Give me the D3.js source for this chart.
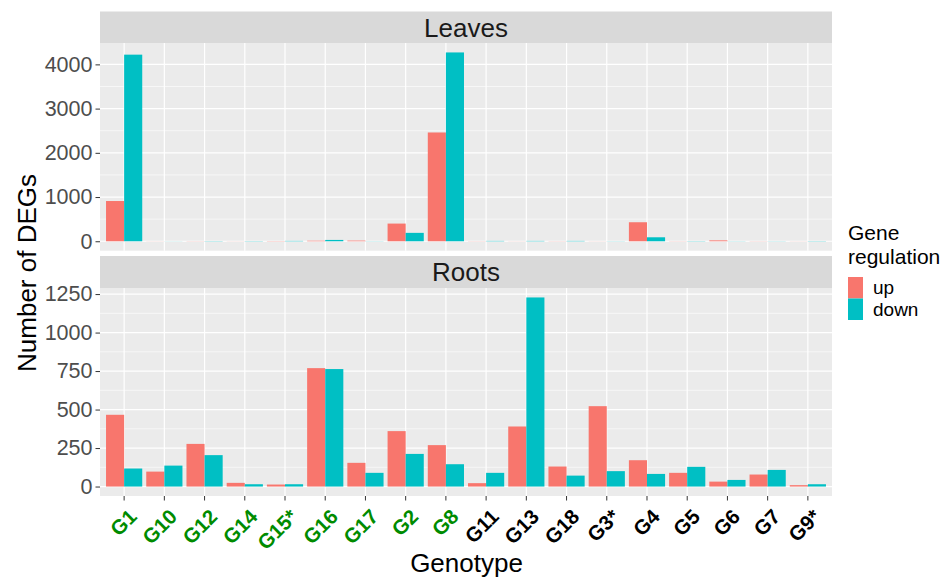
<!DOCTYPE html>
<html>
<head>
<meta charset="utf-8">
<script src="https://cdn.jsdelivr.net/npm/d3@7"></script>
<style>
  body { margin: 0; background: #fff; }
  text { font-family: "Liberation Sans", Arial, sans-serif; }
</style>
</head>
<body>
<div id="view"><svg width="952" height="579"></svg></div>
<script>
var genotypes = ["G1","G10","G12","G14","G15*","G16","G17","G2","G8","G11","G13","G18","G3*","G4","G5","G6","G7","G9*"];
var greenGenotypes = ["G1","G10","G12","G14","G15*","G16","G17","G2","G8"];

var leavesUp   = [910, 2, 3, 2, 5, 12, 15, 400, 2460, 3, 2, 3, 2, 430, 3, 20, 3, 2];
var leavesDown = [4220, 2, 5, 5, 8, 30, 3, 190, 4270, 8, 8, 8, 3, 90, 5, 3, 3, 5];
var rootsUp    = [466, 97, 277, 24, 13, 769, 154, 360, 269, 22, 390, 130, 522, 171, 89, 32, 78, 9];
var rootsDown  = [117, 136, 204, 15, 15, 763, 89, 212, 145, 89, 1228, 71, 100, 82, 128, 43, 108, 15];

var leavesTicks = [0, 1000, 2000, 3000, 4000];
var rootsTicks = [0, 250, 500, 750, 1000, 1250];

var regulation = ["up", "down"];
var colors = {up: "#F8766D", down: "#00BFC4"};

var svg = d3.select("#view > svg"),
    width = +svg.attr("width"),
    height = +svg.attr("height");

var left = 100, right = 832;

// discrete axis like ggplot: 0.6 expansion each side
var x = d3.scaleLinear()
    .domain([0.4, genotypes.length + 0.6])
    .range([left, right]);

var panels = [
  {name: "Leaves", up: leavesUp, down: leavesDown, ticks: leavesTicks, stripTop: 11.5, top: 43, bottom: 250.7},
  {name: "Roots",  up: rootsUp,  down: rootsDown,  ticks: rootsTicks,  stripTop: 256, top: 288, bottom: 496}
];

panels.forEach(function(p) {
  var max = d3.max(p.up.concat(p.down));
  var y = d3.scaleLinear()
      .domain([-0.05 * max, 1.05 * max])
      .range([p.bottom, p.top]);

  var g = svg.append("g");

  // strip
  g.append("rect")
      .attr("x", left).attr("y", p.stripTop)
      .attr("width", right - left).attr("height", p.top - p.stripTop)
      .attr("fill", "#D9D9D9");
  g.append("text")
      .attr("x", (left + right) / 2)
      .attr("y", (p.stripTop + p.top) / 2)
      .attr("dy", "0.36em")
      .attr("text-anchor", "middle")
      .attr("font-size", 26)
      .attr("fill", "#1A1A1A")
      .text(p.name);

  // panel background
  g.append("rect")
      .attr("x", left).attr("y", p.top)
      .attr("width", right - left).attr("height", p.bottom - p.top)
      .attr("fill", "#EBEBEB");

  // minor grid
  var step = p.ticks[1] - p.ticks[0];
  var minor = p.ticks.map(function(t) { return t + step / 2; })
      .filter(function(v) { return y(v) >= p.top; });
  g.selectAll(".minor")
      .data(minor)
      .enter().append("line")
      .attr("x1", left).attr("x2", right)
      .attr("y1", function(d) { return y(d); })
      .attr("y2", function(d) { return y(d); })
      .attr("stroke", "#fff").attr("stroke-width", 0.6);

  // major grid
  g.selectAll(".major")
      .data(p.ticks)
      .enter().append("line")
      .attr("x1", left).attr("x2", right)
      .attr("y1", function(d) { return y(d); })
      .attr("y2", function(d) { return y(d); })
      .attr("stroke", "#fff").attr("stroke-width", 1.2);

  g.selectAll(".vgrid")
      .data(genotypes)
      .enter().append("line")
      .attr("x1", function(d, i) { return x(i + 1); })
      .attr("x2", function(d, i) { return x(i + 1); })
      .attr("y1", p.top).attr("y2", p.bottom)
      .attr("stroke", "#fff").attr("stroke-width", 1.2);

  // bars
  regulation.forEach(function(r, k) {
    g.selectAll(".bar-" + r)
        .data(p[r])
        .enter().append("rect")
        .attr("x", function(d, i) { return k === 0 ? x(i + 1 - 0.45) : x(i + 1); })
        .attr("width", x(1.45) - x(1))
        .attr("y", function(d) { return y(d); })
        .attr("height", function(d) { return y(0) - y(d); })
        .attr("fill", colors[r]);
  });

  // y axis
  var axis = g.append("g")
      .attr("transform", "translate(" + left + ",0)")
      .call(d3.axisLeft(y).tickValues(p.ticks).tickFormat(d3.format("d")).tickSize(4.5).tickPadding(3));
  axis.select(".domain").remove();
  axis.selectAll(".tick line").attr("stroke", "#333");
  axis.selectAll(".tick text")
      .attr("font-size", 21.5)
      .attr("font-family", "Liberation Sans, Arial, sans-serif")
      .attr("fill", "#4D4D4D");
});

// x ticks and labels
var bottom = panels[1].bottom;
svg.selectAll(".xtick")
    .data(genotypes)
    .enter().append("line")
    .attr("x1", function(d, i) { return x(i + 1); })
    .attr("x2", function(d, i) { return x(i + 1); })
    .attr("y1", bottom).attr("y2", bottom + 4.5)
    .attr("stroke", "#333");

svg.selectAll(".xlabel")
    .data(genotypes)
    .enter().append("text")
    .attr("transform", function(d, i) {
      return "translate(" + (x(i + 1) + 14) + "," + 518 + ") rotate(-45)";
    })
    .attr("text-anchor", "end")
    .attr("font-size", 20.5)
    .attr("font-weight", "bold")
    .attr("fill", function(d) { return greenGenotypes.indexOf(d) >= 0 ? "#008B00" : "#000"; })
    .text(function(d) { return d; });

// axis titles
svg.append("text")
    .attr("x", 466.5).attr("y", 572)
    .attr("text-anchor", "middle")
    .attr("font-size", 26)
    .attr("fill", "#000")
    .text("Genotype");

svg.append("text")
    .attr("transform", "translate(36,273) rotate(-90)")
    .attr("text-anchor", "middle")
    .attr("font-size", 26)
    .attr("fill", "#000")
    .text("Number of DEGs");

// legend
var legend = svg.append("g").attr("transform", "translate(848,0)");
legend.append("text").attr("x", 0).attr("y", 240).attr("font-size", 21).text("Gene");
legend.append("text").attr("x", 0).attr("y", 264).attr("font-size", 21).text("regulation");

legend.selectAll(".key")
    .data(regulation)
    .enter().append("rect")
    .attr("x", 0)
    .attr("y", function(d, i) { return 277 + i * 21.5; })
    .attr("width", 15).attr("height", 21.5)
    .attr("fill", function(d) { return colors[d]; });

legend.selectAll(".keylab")
    .data(regulation)
    .enter().append("text")
    .attr("x", 25)
    .attr("y", function(d, i) { return 294 + i * 21.5; })
    .attr("font-size", 19)
    .text(function(d) { return d; });
</script>
</body>
</html>
